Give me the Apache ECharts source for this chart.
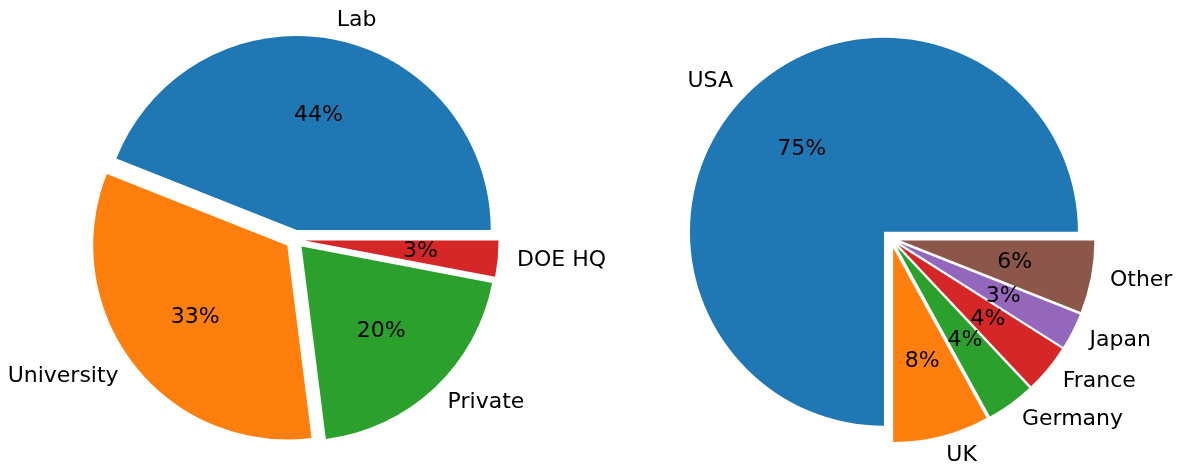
<!DOCTYPE html>
<html><head><meta charset="utf-8">
<script src="https://cdn.jsdelivr.net/npm/echarts@6/dist/echarts.min.js"></script>
<style>html,body{margin:0;padding:0;background:#fff}#c{width:1181px;height:465px}</style>
</head><body><div id="c"></div>
<script>
// ---- data ----
const fundingCategories = ['Lab', 'University', 'Private', 'DOE HQ'];
const fundingShares = [44, 33, 20, 3];
const countryCategories = ['USA', 'UK', 'Germany', 'France', 'Japan', 'Other'];
const countryShares = [75, 8, 4, 4, 3, 6];
const palette = ['#1f77b4', '#ff7f0e', '#2ca02c', '#d62728', '#9467bd', '#8c564b'];

// ---- layout / style ----
const R = 194, EXPLODE = 9.7, FONT = 'DejaVu Sans', FS = 22;

function buildPie(names, values, center) {
  const common = {
    type: 'pie', center: center, startAngle: 0, clockwise: false,
    selectedMode: 'multiple', selectedOffset: EXPLODE,
    avoidLabelOverlap: false, silent: true, animation: false,
    emphasis: { disabled: true }, percentPrecision: 0, minAngle: 0,
    minShowLabelAngle: 0, labelLayout: { hideOverlap: false }
  };
  const data = names.map((n, i) => ({
    name: n, value: values[i], selected: true,
    itemStyle: { color: palette[i], borderWidth: 0 }
  }));
  const ghost = names.map((n, i) => ({
    name: n, value: values[i], selected: true,
    itemStyle: { color: 'rgba(0,0,0,0)', borderWidth: 0 }
  }));
  return [
    Object.assign({}, common, {
      radius: [0, R], data: data,
      select: { itemStyle: { borderWidth: 0 } },
      label: { show: true, position: 'outside', formatter: '{b}', color: '#000',
        fontFamily: FONT, fontSize: FS, distanceToLabelLine: 0, alignTo: 'none' },
      labelLine: { show: false, length: R * 0.1, length2: 0 }
    }),
    Object.assign({}, common, {
      radius: [0, 2 * (0.6 * R - 3)], data: ghost,
      select: { itemStyle: { borderWidth: 0 } },
      label: { show: true, position: 'inside', formatter: '{d}%', color: '#000',
        fontFamily: FONT, fontSize: FS },
      labelLine: { show: false }
    })
  ];
}

const chart = echarts.init(document.getElementById('c'), null, { renderer: 'canvas' });
chart.setOption({
  backgroundColor: '#fff',
  animation: false,
  tooltip: { show: false },
  series: [].concat(
    buildPie(fundingCategories, fundingShares, [294.9, 239.5]),
    buildPie(countryCategories, countryShares, [890.8, 238.7])
  )
});
</script></body></html>
